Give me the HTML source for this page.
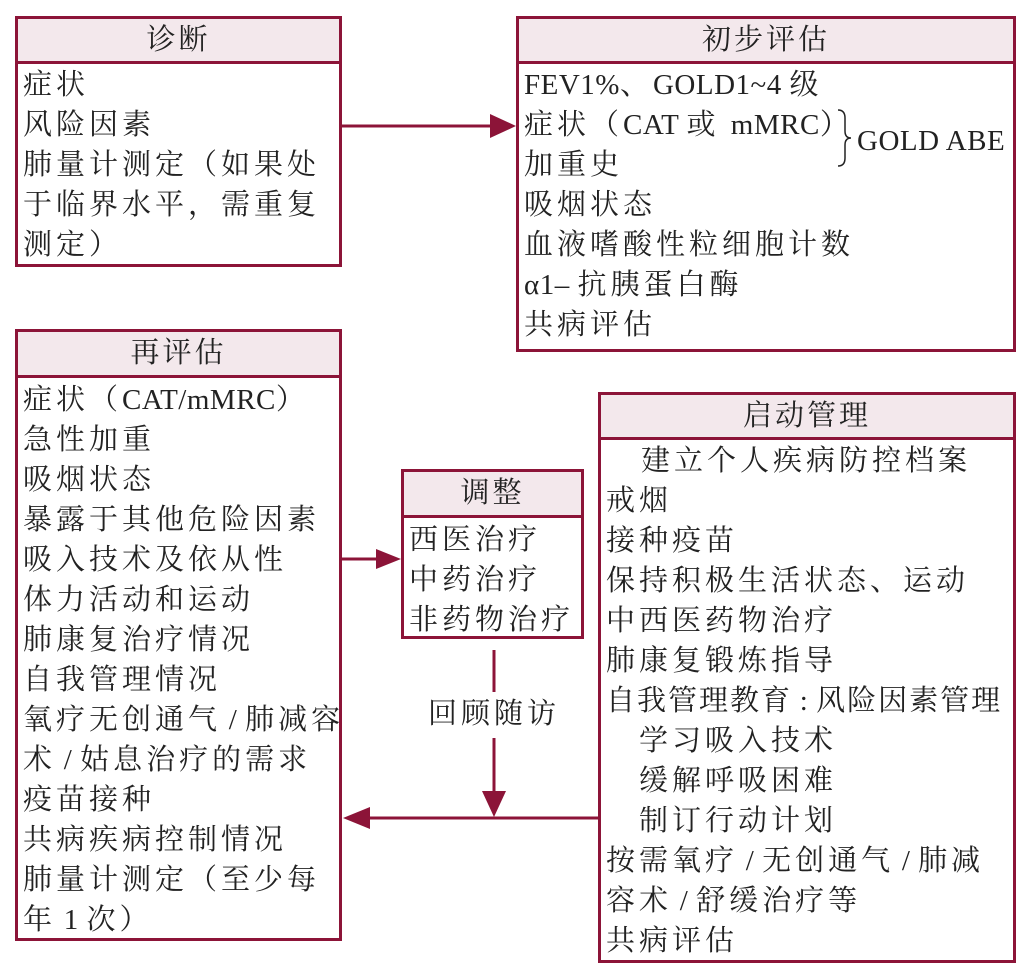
<!DOCTYPE html>
<html><head><meta charset="utf-8"><style>
body{margin:0;width:1032px;height:974px;background:#fff;position:relative;overflow:hidden;font-family:"Liberation Serif","Noto Serif CJK SC",serif;color:#222}
.box{position:absolute;border:3px solid #8c1438;box-sizing:border-box;background:#fff}
.hd{position:absolute;left:0;right:0;top:0;background:#f3e8ec;border-bottom:3px solid #8c1438;text-align:center;font-size:29px;letter-spacing:3px}
.l{position:absolute;white-space:nowrap;font-size:29px;letter-spacing:4px;line-height:40px}
.e{letter-spacing:0.5px}
</style></head><body>

<div class="box" style="left:15px;top:16px;width:327px;height:251px">
<div class="hd" style="height:42px;line-height:42px">诊断</div>
<div class="l" style="left:5px;top:46px">症状</div>
<div class="l" style="left:5px;top:86px">风险因素</div>
<div class="l" style="left:5px;top:126px">肺量计测定（如果处</div>
<div class="l" style="left:5px;top:166px">于临界水平，需重复</div>
<div class="l" style="left:5px;top:206px">测定）</div>
</div>

<div class="box" style="left:516px;top:16px;width:500px;height:336px">
<div class="hd" style="height:42px;line-height:42px">初步评估</div>
<div class="l" style="left:5px;top:46px"><span class="e">FEV1%</span>、<span class="e">GOLD1~4 </span>级</div>
<div class="l" style="left:5px;top:86px">症状（<span class="e">CAT </span>或 <span class="e">mMRC</span>）</div>
<div class="l" style="left:5px;top:126px">加重史</div>
<div class="l" style="left:5px;top:166px">吸烟状态</div>
<div class="l" style="left:5px;top:206px">血液嗜酸性粒细胞计数</div>
<div class="l" style="left:5px;top:246px"><span class="e"> α1– </span>抗胰蛋白酶</div>
<div class="l" style="left:5px;top:286px">共病评估</div>
<div class="l e" style="left:338px;top:102px">GOLD ABE</div>
</div>

<div class="box" style="left:15px;top:329px;width:327px;height:612px">
<div class="hd" style="height:43px;line-height:43px">再评估</div>
<div class="l" style="left:5px;top:48px">症状（<span class="e">CAT/mMRC</span>）</div>
<div class="l" style="left:5px;top:88px">急性加重</div>
<div class="l" style="left:5px;top:128px">吸烟状态</div>
<div class="l" style="left:5px;top:168px">暴露于其他危险因素</div>
<div class="l" style="left:5px;top:208px">吸入技术及依从性</div>
<div class="l" style="left:5px;top:248px">体力活动和运动</div>
<div class="l" style="left:5px;top:288px">肺康复治疗情况</div>
<div class="l" style="left:5px;top:328px">自我管理情况</div>
<div class="l" style="left:5px;top:368px">氧疗无创通气<span class="e"> / </span>肺减容</div>
<div class="l" style="left:5px;top:408px">术<span class="e"> / </span>姑息治疗的需求</div>
<div class="l" style="left:5px;top:448px">疫苗接种</div>
<div class="l" style="left:5px;top:488px">共病疾病控制情况</div>
<div class="l" style="left:5px;top:528px">肺量计测定（至少每</div>
<div class="l" style="left:5px;top:568px">年<span class="e"> 1 </span>次）</div>
</div>

<div class="box" style="left:401px;top:469px;width:183px;height:170px">
<div class="hd" style="height:43px;line-height:43px">调整</div>
<div class="l" style="left:5px;top:48px">西医治疗</div>
<div class="l" style="left:5px;top:88px">中药治疗</div>
<div class="l" style="left:5px;top:128px">非药物治疗</div>
</div>

<div class="l" style="left:428px;top:694px">回顾随访</div>

<div class="box" style="left:598px;top:392px;width:418px;height:571px">
<div class="hd" style="height:42px;line-height:42px">启动管理</div>
<div class="l" style="left:40px;top:46px">建立个人疾病防控档案</div>
<div class="l" style="left:5px;top:86px">戒烟</div>
<div class="l" style="left:5px;top:126px">接种疫苗</div>
<div class="l" style="left:5px;top:166px">保持积极生活状态、运动</div>
<div class="l" style="left:5px;top:206px">中西医药物治疗</div>
<div class="l" style="left:5px;top:246px">肺康复锻炼指导</div>
<div class="l" style="left:5px;top:286px;letter-spacing:2px">自我管理教育<span class="e"> : </span>风险因素管理</div>
<div class="l" style="left:38px;top:326px">学习吸入技术</div>
<div class="l" style="left:38px;top:366px">缓解呼吸困难</div>
<div class="l" style="left:38px;top:406px">制订行动计划</div>
<div class="l" style="left:5px;top:446px">按需氧疗<span class="e"> / </span>无创通气<span class="e"> / </span>肺减</div>
<div class="l" style="left:5px;top:486px">容术<span class="e"> / </span>舒缓治疗等</div>
<div class="l" style="left:5px;top:526px">共病评估</div>
</div>

<svg width="1032" height="974" style="position:absolute;left:0;top:0;z-index:5">
<g stroke="#8c1438" stroke-width="3" fill="none">
<line x1="342" y1="126" x2="492" y2="126"/>
<line x1="342" y1="559" x2="378" y2="559"/>
<line x1="494" y1="650" x2="494" y2="692"/>
<line x1="494" y1="738" x2="494" y2="792"/>
<line x1="598" y1="818" x2="368" y2="818"/>
</g>
<g fill="#8c1438">
<polygon points="490,114 516,126 490,138"/>
<polygon points="376,549 401,559 376,569"/>
<polygon points="482,791 494,817 506,791"/>
<polygon points="370,807 343,818 370,829"/>
</g>
<path d="M838,110 Q845,110 845,118 L845,131 Q845,138 851,138 Q845,138 845,145 L845,158 Q845,166 838,166" stroke="#222" stroke-width="1.5" fill="none"/>
</svg>
</body></html>
